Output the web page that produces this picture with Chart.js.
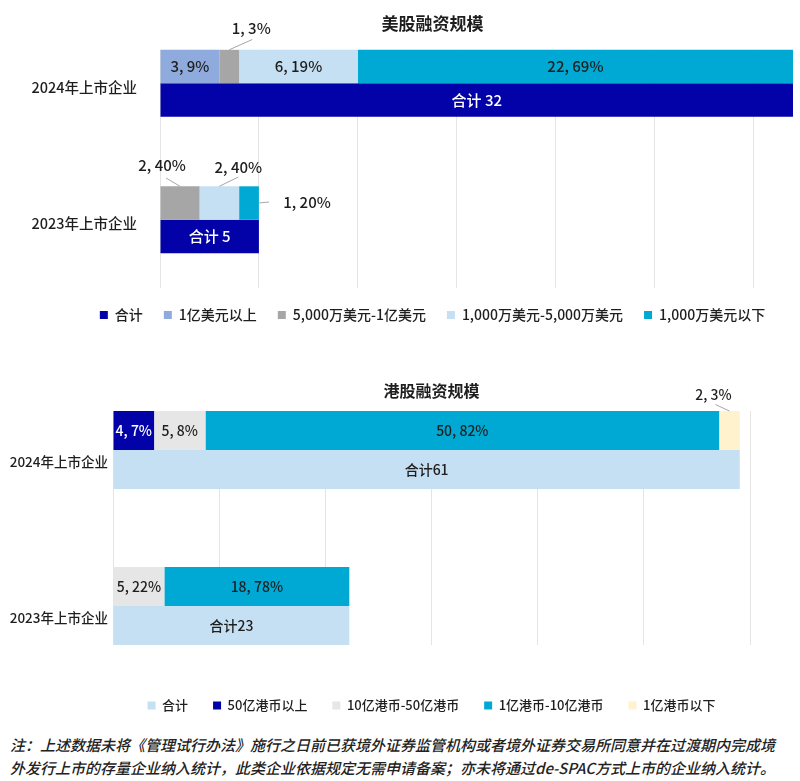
<!DOCTYPE html>
<html lang="zh-CN">
<head>
<meta charset="utf-8">
<title>美股融资规模 / 港股融资规模</title>
<script src="https://cdn.jsdelivr.net/npm/chart.js@4.4.1/dist/chart.umd.min.js"></script>
<style>
  html, body { margin: 0; padding: 0; background: #fff; }
  body { width: 800px; height: 781px; overflow: hidden; position: relative; font-family: "Noto Sans CJK SC", "Noto Sans", sans-serif; }
  #usChart { position: absolute; left: 0; top: 0; }
  #hkChart { position: absolute; left: 0; top: 340px; }
  .note { position: absolute; left: 10px; top: 733px; font-size: 15px; font-weight: 500; line-height: 23px; color: #222; font-style: italic; white-space: nowrap; }
</style>
</head>
<body>
<canvas id="usChart" width="800" height="340"></canvas>
<canvas id="hkChart" width="800" height="393"></canvas>
<div class="note">注：上述数据未将《管理试行办法》施行之日前已获境外证券监管机构或者境外证券交易所同意并在过渡期内完成境<br>外发行上市的存量企业纳入统计，此类企业依据规定无需申请备案；亦未将通过de-SPAC方式上市的企业纳入统计。</div>
<script>
// ---------- data: 美股 ----------
const usCategories = ["2024年上市企业", "2023年上市企业"];
const usSeries = ["合计", "1亿美元以上", "5,000万美元-1亿美元", "1,000万美元-5,000万美元", "1,000万美元以下"];
const usTotal = [32, 5];
const usOver100m = [3, 0];
const us50to100m = [1, 2];
const us10to50m = [6, 2];
const usUnder10m = [22, 1];
const usOver100mPct = [9, 0];
const us50to100mPct = [3, 40];
const us10to50mPct = [19, 40];
const usUnder10mPct = [69, 20];
const usAxisMax = 32;
const usGridTicks = [0, 5, 10, 15, 20, 25, 30];

// ---------- data: 港股 ----------
const hkCategories = ["2024年上市企业", "2023年上市企业"];
const hkSeries = ["合计", "50亿港币以上", "10亿港币-50亿港币", "1亿港币-10亿港币", "1亿港币以下"];
const hkTotal = [61, 23];
const hkOver5b = [4, 0];
const hk1to5b = [5, 5];
const hk100mTo1b = [50, 18];
const hkUnder100m = [2, 0];
const hkOver5bPct = [7, 0];
const hk1to5bPct = [8, 22];
const hk100mTo1bPct = [82, 78];
const hkUnder100mPct = [3, 0];
const hkAxisMax = 62;
const hkGridTicks = [0, 1, 2, 3, 4, 5, 6].map((k) => (k * hkAxisMax) / 6);

// ---------- look ----------
const FONT = '"Noto Sans CJK SC", "Noto Sans", sans-serif';
const TEXT = "#1E1E1E";
const NAVY = "#0202A8";
const CYAN = "#00A9D3";
const SKY = "#C5DFF3";
const PERI = "#8FAADC";
const GREY = "#A6A6A6";
const PALE = "#E6E6E6";
const CREAM = "#FFF2CC";

Chart.defaults.font.family = FONT;
Chart.defaults.font.weight = 500;
Chart.defaults.color = TEXT;

// =========================
// PLUGINS
// =========================

// gridlines only where Excel drew them (from first bar top down)
const gridClip = {
  id: "gridClip",
  beforeDraw(chart, args, opts) {
    const area = chart.chartArea;
    let top = area.bottom;
    let bottom = area.top;
    chart.getSortedVisibleDatasetMetas().forEach((m) =>
      m.data.forEach((el) => {
        top = Math.min(top, el.y - el.height / 2);
        bottom = Math.max(bottom, el.y + el.height / 2);
      })
    );
    if (!opts.toLastBar) bottom = area.bottom + 2;
    const ctx = chart.ctx;
    ctx.save();
    ctx.beginPath();
    ctx.rect(0, 0, chart.width, chart.height);
    ctx.rect(area.left - 2, area.top - 2, area.width + 4, top - area.top + 2);
    ctx.rect(area.left - 2, bottom, area.width + 4, area.bottom - bottom + 2);
    ctx.clip("evenodd");
  },
  beforeDatasetsDraw(chart) {
    chart.ctx.restore();
  },
};

// value labels, some pulled outside with a leader line
const barLabels = {
  id: "barLabels",
  afterDatasetsDraw(chart, args, opts) {
    const ctx = chart.ctx;
    ctx.save();
    ctx.font = "500 " + opts.size + "px " + FONT;
    ctx.textAlign = "center";
    ctx.textBaseline = "middle";
    chart.data.datasets.forEach((ds, di) => {
      const meta = chart.getDatasetMeta(di);
      meta.data.forEach((el, i) => {
        const text = ds.labelTexts[i];
        if (!text) return;
        const cx = (el.x + el.base) / 2;
        let tx = cx;
        let ty = el.y;
        let color = ds.labelColor;
        const out = (opts.outside || []).find((o) => o.series === ds.label && o.index === i);
        if (out) {
          tx = cx + out.dx;
          ty = el.y + out.dy;
          color = TEXT;
          ctx.strokeStyle = "#A6A6A6";
          ctx.lineWidth = 1;
          ctx.beginPath();
          if (out.anchor === "right") ctx.moveTo(el.x, el.y);
          else ctx.moveTo(cx, el.y - el.height / 2);
          ctx.lineTo(tx + out.ex, ty + out.ey);
          ctx.stroke();
        }
        ctx.fillStyle = color;
        ctx.fillText(text, tx, ty);
      });
    });
    ctx.restore();
  },
};

// title centred like the legend, floating over the plot
const floatTitle = {
  id: "floatTitle",
  afterDraw(chart, args, opts) {
    const lg = chart.legend;
    const ctx = chart.ctx;
    ctx.save();
    ctx.font = "bold " + opts.size + "px " + FONT;
    ctx.fillStyle = TEXT;
    ctx.textAlign = "center";
    ctx.textBaseline = "middle";
    ctx.fillText(opts.text, (lg.left + lg.right) / 2, opts.y);
    ctx.restore();
  },
};

const legendNudge = {
  id: "legendNudge",
  afterLayout(chart, args, opts) {
    const lg = chart.legend;
    lg.top += opts.dy;
    lg.bottom += opts.dy;
    lg.left += opts.dx;
    lg.right += opts.dx;
  },
};

// =========================
// HELPERS
// =========================
function part(label, values, pcts, color, labelColor) {
  return {
    label,
    data: values,
    stack: "parts",
    backgroundColor: color,
    labelColor: labelColor || TEXT,
    labelTexts: values.map((v, i) => (v ? v + ", " + pcts[i] + "%" : "")),
  };
}

function total(label, values, color, labelColor, prefix) {
  return {
    label,
    data: values,
    stack: "total",
    backgroundColor: color,
    labelColor,
    labelTexts: values.map((v) => prefix + v),
  };
}

function baseOptions(cfg) {
  const totalIndex = 4;
  const rank = (it) => (it.datasetIndex === totalIndex ? -1 : it.datasetIndex);
  return {
    indexAxis: "y",
    responsive: false,
    animation: false,
    events: [],
    layout: { padding: cfg.padding },
    datasets: {
      bar: { categoryPercentage: cfg.catPct, barPercentage: 1, borderWidth: 0 },
    },
    scales: {
      x: {
        stacked: true,
        min: 0,
        max: cfg.max,
        grid: { color: "#E4E4E4", drawTicks: false },
        border: { display: false },
        ticks: { display: false },
        afterBuildTicks(s) {
          s.ticks = cfg.gridTicks.map((v) => ({ value: v }));
        },
      },
      y: {
        grid: { display: false, drawTicks: false },
        border: { display: false },
        ticks: { padding: cfg.tickPad, labelOffset: cfg.labelOffset, color: TEXT, font: { size: cfg.tickSize } },
        afterFit(s) {
          s.width = cfg.axisWidth;
          s.paddingTop = 0;
          s.paddingBottom = 0;
        },
      },
    },
    plugins: {
      tooltip: { enabled: false },
      legend: {
        position: "bottom",
        fullSize: cfg.legendFull,
        labels: {
          boxWidth: 8,
          boxHeight: 8,
          padding: cfg.legendPad,
          color: TEXT,
          font: { size: cfg.legendSize },
          sort: (a, b) => rank(a) - rank(b),
        },
      },
      legendNudge: { dx: cfg.legendDx, dy: cfg.legendDy },
      floatTitle: { text: cfg.title, y: cfg.titleY, size: cfg.titleSize },
      gridClip: { toLastBar: cfg.gridToLastBar },
      barLabels: { outside: cfg.outside, size: cfg.labelSize },
    },
  };
}

const plugins = [gridClip, barLabels, floatTitle, legendNudge];

// =========================
// CHARTS
// =========================
new Chart(document.getElementById("usChart"), {
  type: "bar",
  data: {
    labels: usCategories,
    datasets: [
      part(usSeries[1], usOver100m, usOver100mPct, PERI),
      part(usSeries[2], us50to100m, us50to100mPct, GREY),
      part(usSeries[3], us10to50m, us10to50mPct, SKY),
      part(usSeries[4], usUnder10m, usUnder10mPct, CYAN),
      total(usSeries[0], usTotal, NAVY, "#FFFFFF", "合计 "),
    ],
  },
  options: baseOptions({
    title: "美股融资规模",
    titleY: 24,
    titleSize: 17,
    padding: { left: 0, right: 7, top: 15, bottom: 7 },
    catPct: 0.49,
    max: usAxisMax,
    gridTicks: usGridTicks,
    tickPad: 23,
    tickSize: 14.5,
    labelOffset: 4,
    labelSize: 15,
    axisWidth: 160,
    legendFull: true,
    legendSize: 14,
    legendPad: 21,
    legendDx: 36,
    legendDy: -1,
    gridToLastBar: false,
    outside: [
      { series: usSeries[2], index: 0, dx: 22, dy: -38, ex: 1, ey: 11 },
      { series: usSeries[2], index: 1, dx: -18, dy: -38, ex: 4, ey: 13 },
      { series: usSeries[3], index: 1, dx: 19, dy: -36, ex: 0, ey: 10 },
      { series: usSeries[4], index: 1, dx: 58, dy: -1, ex: -38, ey: 0, anchor: "right" },
    ],
  }),
  plugins,
});

new Chart(document.getElementById("hkChart"), {
  type: "bar",
  data: {
    labels: hkCategories,
    datasets: [
      part(hkSeries[1], hkOver5b, hkOver5bPct, NAVY, "#FFFFFF"),
      part(hkSeries[2], hk1to5b, hk1to5bPct, PALE),
      part(hkSeries[3], hk100mTo1b, hk100mTo1bPct, CYAN),
      part(hkSeries[4], hkUnder100m, hkUnder100mPct, CREAM),
      total(hkSeries[0], hkTotal, SKY, TEXT, "合计"),
    ],
  },
  options: baseOptions({
    title: "港股融资规模",
    titleY: 51,
    titleSize: 16,
    padding: { left: 0, right: 50, top: 32, bottom: 1 },
    catPct: 0.5,
    max: hkAxisMax,
    gridTicks: hkGridTicks,
    tickPad: 5,
    tickSize: 13.5,
    labelOffset: 12,
    labelSize: 14,
    axisWidth: 113,
    legendFull: false,
    legendSize: 13,
    legendPad: 25,
    legendDx: 0,
    legendDy: -10,
    gridToLastBar: true,
    outside: [{ series: hkSeries[4], index: 0, dx: -16, dy: -36, ex: 2, ey: 10 }],
  }),
  plugins,
});
</script>
</body>
</html>
